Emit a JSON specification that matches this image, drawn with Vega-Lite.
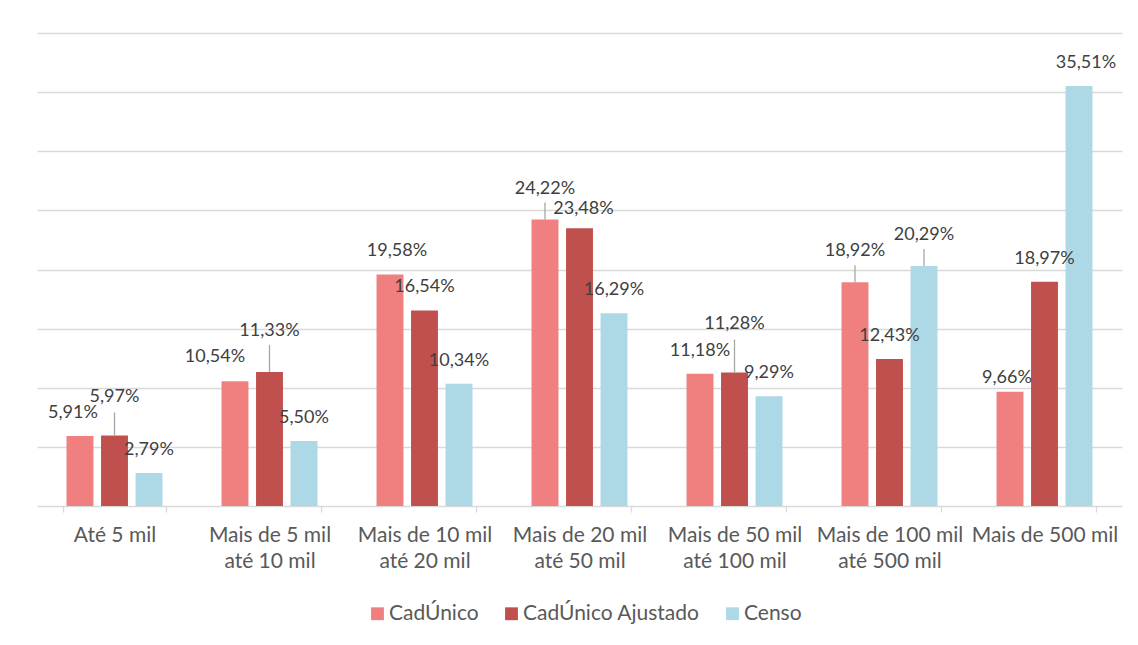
{
  "$schema": "https://vega.github.io/schema/vega-lite/v6.json",
  "width": 1085,
  "height": 473,
  "autosize": "none",
  "padding": {"left": 37, "top": 33, "right": 16, "bottom": 139},
  "background": "white",
  "config": {
    "view": {"stroke": null},
    "font": "Lato",
    "locale": {"number": {"decimal": ",", "thousands": ".", "grouping": [3], "currency": ["R$", ""]}}
  },
  "data": {
    "values": [
      {"faixa": "Até 5 mil", "serie": "CadÚnico", "valor": 0.0591},
      {"faixa": "Até 5 mil", "serie": "CadÚnico Ajustado", "valor": 0.0597},
      {"faixa": "Até 5 mil", "serie": "Censo", "valor": 0.0279},
      {"faixa": "Mais de 5 mil até 10 mil", "serie": "CadÚnico", "valor": 0.1054},
      {"faixa": "Mais de 5 mil até 10 mil", "serie": "CadÚnico Ajustado", "valor": 0.1133},
      {"faixa": "Mais de 5 mil até 10 mil", "serie": "Censo", "valor": 0.055},
      {"faixa": "Mais de 10 mil até 20 mil", "serie": "CadÚnico", "valor": 0.1958},
      {"faixa": "Mais de 10 mil até 20 mil", "serie": "CadÚnico Ajustado", "valor": 0.1654},
      {"faixa": "Mais de 10 mil até 20 mil", "serie": "Censo", "valor": 0.1034},
      {"faixa": "Mais de 20 mil até 50 mil", "serie": "CadÚnico", "valor": 0.2422},
      {"faixa": "Mais de 20 mil até 50 mil", "serie": "CadÚnico Ajustado", "valor": 0.2348},
      {"faixa": "Mais de 20 mil até 50 mil", "serie": "Censo", "valor": 0.1629},
      {"faixa": "Mais de 50 mil até 100 mil", "serie": "CadÚnico", "valor": 0.1118},
      {"faixa": "Mais de 50 mil até 100 mil", "serie": "CadÚnico Ajustado", "valor": 0.1128},
      {"faixa": "Mais de 50 mil até 100 mil", "serie": "Censo", "valor": 0.0929},
      {"faixa": "Mais de 100 mil até 500 mil", "serie": "CadÚnico", "valor": 0.1892},
      {"faixa": "Mais de 100 mil até 500 mil", "serie": "CadÚnico Ajustado", "valor": 0.1243},
      {"faixa": "Mais de 100 mil até 500 mil", "serie": "Censo", "valor": 0.2029},
      {"faixa": "Mais de 500 mil", "serie": "CadÚnico", "valor": 0.0966},
      {"faixa": "Mais de 500 mil", "serie": "CadÚnico Ajustado", "valor": 0.1897},
      {"faixa": "Mais de 500 mil", "serie": "Censo", "valor": 0.3551}
    ]
  },
  "encoding": {
    "x": {
      "field": "faixa",
      "type": "nominal",
      "sort": ["Até 5 mil", "Mais de 5 mil até 10 mil", "Mais de 10 mil até 20 mil", "Mais de 20 mil até 50 mil", "Mais de 50 mil até 100 mil", "Mais de 100 mil até 500 mil", "Mais de 500 mil"],
      "scale": {"paddingInner": 0.332, "paddingOuter": 0.166},
      "axis": {
        "title": null,
        "grid": false,
        "labelAngle": 0,
        "domainColor": "#d9d9d9",
        "domainWidth": 1.3,
        "tickColor": "#d9d9d9",
        "tickWidth": 1.3,
        "tickSize": 6,
        "tickBand": "extent",
        "labelColor": "#595959",
        "labelFontSize": 21,
        "labelBaseline": "top",
        "labelPadding": 12,
        "labelLineHeight": 26,
        "labelLimit": 0,
        "labelExpr": "indexof(datum.label, ' até ') > 0 ? [substring(datum.label, 0, indexof(datum.label, ' até ')), substring(datum.label, indexof(datum.label, ' até ') + 1)] : datum.label"
      }
    },
    "xOffset": {
      "field": "serie",
      "type": "nominal",
      "sort": ["CadÚnico", "CadÚnico Ajustado", "Censo"],
      "scale": {"paddingInner": 0.22, "paddingOuter": 0.11}
    },
    "y": {
      "field": "valor",
      "type": "quantitative",
      "scale": {"domain": [0, 0.4], "nice": false},
      "axis": {
        "title": null,
        "labels": false,
        "ticks": false,
        "domain": false,
        "grid": true,
        "gridColor": "#d9d9d9",
        "gridWidth": 1.3,
        "values": [0.05, 0.1, 0.15, 0.2, 0.25, 0.3, 0.35, 0.4]
      }
    }
  },
  "layer": [
    {
      "mark": {"type": "bar"},
      "encoding": {
        "color": {
          "field": "serie",
          "type": "nominal",
          "scale": {"domain": ["CadÚnico", "CadÚnico Ajustado", "Censo"], "range": ["#F08080", "#C0504D", "#ADD8E6"]},
          "legend": {
            "title": null,
            "orient": "none",
            "legendX": 330,
            "legendY": 570,
            "padding": 0,
            "direction": "horizontal",
            "symbolType": "square",
            "symbolSize": 165,
            "symbolStrokeWidth": 0,
            "labelFontSize": 21,
            "labelColor": "#595959",
            "labelOffset": 1,
            "labelLimit": 0,
            "columnPadding": 22
          }
        }
      }
    },
    {
      "transform": [{"filter": "indexof(['Até 5 mil|CadÚnico Ajustado', 'Mais de 5 mil até 10 mil|CadÚnico Ajustado', 'Mais de 50 mil até 100 mil|CadÚnico Ajustado', 'Mais de 20 mil até 50 mil|CadÚnico', 'Mais de 100 mil até 500 mil|CadÚnico', 'Mais de 100 mil até 500 mil|Censo', 'Mais de 5 mil até 10 mil|CadÚnico', 'Mais de 500 mil|CadÚnico', 'Mais de 20 mil até 50 mil|CadÚnico Ajustado', 'Até 5 mil|CadÚnico', 'Mais de 10 mil até 20 mil|CadÚnico', 'Mais de 500 mil|Censo'], datum.faixa + '|' + datum.serie) < 0"}],
      "mark": {"type": "text", "fontSize": 18, "color": "#404040", "baseline": "middle", "dy": -23},
      "encoding": {"text": {"field": "valor", "type": "quantitative", "format": ".2%"}}
    },
    {
      "transform": [{"filter": "datum.faixa === 'Até 5 mil' && datum.serie === 'CadÚnico Ajustado'"}],
      "mark": {"type": "text", "fontSize": 18, "color": "#404040", "baseline": "middle", "dy": -38},
      "encoding": {"text": {"field": "valor", "type": "quantitative", "format": ".2%"}}
    },
    {
      "transform": [{"filter": "datum.faixa === 'Até 5 mil' && datum.serie === 'CadÚnico Ajustado'"}],
      "mark": {"type": "rule", "color": "#a6a6a6", "strokeWidth": 1.3, "y2Offset": -23},
      "encoding": {"y2": {"field": "valor"}}
    },
    {
      "transform": [{"filter": "datum.faixa === 'Mais de 5 mil até 10 mil' && datum.serie === 'CadÚnico Ajustado'"}],
      "mark": {"type": "text", "fontSize": 18, "color": "#404040", "baseline": "middle", "dy": -41},
      "encoding": {"text": {"field": "valor", "type": "quantitative", "format": ".2%"}}
    },
    {
      "transform": [{"filter": "datum.faixa === 'Mais de 5 mil até 10 mil' && datum.serie === 'CadÚnico Ajustado'"}],
      "mark": {"type": "rule", "color": "#a6a6a6", "strokeWidth": 1.3, "y2Offset": -27},
      "encoding": {"y2": {"field": "valor"}}
    },
    {
      "transform": [{"filter": "datum.faixa === 'Mais de 50 mil até 100 mil' && datum.serie === 'CadÚnico Ajustado'"}],
      "mark": {"type": "text", "fontSize": 18, "color": "#404040", "baseline": "middle", "dy": -49},
      "encoding": {"text": {"field": "valor", "type": "quantitative", "format": ".2%"}}
    },
    {
      "transform": [{"filter": "datum.faixa === 'Mais de 50 mil até 100 mil' && datum.serie === 'CadÚnico Ajustado'"}],
      "mark": {"type": "rule", "color": "#a6a6a6", "strokeWidth": 1.3, "y2Offset": -33},
      "encoding": {"y2": {"field": "valor"}}
    },
    {
      "transform": [{"filter": "indexof(['Mais de 20 mil até 50 mil|CadÚnico', 'Mais de 100 mil até 500 mil|CadÚnico', 'Mais de 100 mil até 500 mil|Censo'], datum.faixa + '|' + datum.serie) >= 0"}],
      "mark": {"type": "text", "fontSize": 18, "color": "#404040", "baseline": "middle", "dy": -31},
      "encoding": {"text": {"field": "valor", "type": "quantitative", "format": ".2%"}}
    },
    {
      "transform": [{"filter": "indexof(['Mais de 20 mil até 50 mil|CadÚnico', 'Mais de 100 mil até 500 mil|CadÚnico', 'Mais de 100 mil até 500 mil|Censo'], datum.faixa + '|' + datum.serie) >= 0"}],
      "mark": {"type": "rule", "color": "#a6a6a6", "strokeWidth": 1.3, "y2Offset": -17},
      "encoding": {"y2": {"field": "valor"}}
    },
    {
      "transform": [{"filter": "datum.faixa === 'Mais de 5 mil até 10 mil' && datum.serie === 'CadÚnico'"}],
      "mark": {"type": "text", "fontSize": 18, "color": "#404040", "baseline": "middle", "dy": -24, "dx": -20},
      "encoding": {"text": {"field": "valor", "type": "quantitative", "format": ".2%"}}
    },
    {
      "transform": [{"filter": "datum.faixa === 'Mais de 500 mil' && datum.serie === 'CadÚnico'"}],
      "mark": {"type": "text", "fontSize": 18, "color": "#404040", "baseline": "middle", "dy": -14, "dx": -3},
      "encoding": {"text": {"field": "valor", "type": "quantitative", "format": ".2%"}}
    },
    {
      "transform": [{"filter": "datum.faixa === 'Mais de 20 mil até 50 mil' && datum.serie === 'CadÚnico Ajustado'"}],
      "mark": {"type": "text", "fontSize": 18, "color": "#404040", "baseline": "middle", "dy": -19, "dx": 4},
      "encoding": {"text": {"field": "valor", "type": "quantitative", "format": ".2%"}}
    },
    {
      "transform": [{"filter": "datum.faixa === 'Até 5 mil' && datum.serie === 'CadÚnico'"}],
      "mark": {"type": "text", "fontSize": 18, "color": "#404040", "baseline": "middle", "dy": -23, "dx": -7},
      "encoding": {"text": {"field": "valor", "type": "quantitative", "format": ".2%"}}
    },
    {
      "transform": [{"filter": "indexof(['Mais de 10 mil até 20 mil|CadÚnico', 'Mais de 500 mil|Censo'], datum.faixa + '|' + datum.serie) >= 0"}],
      "mark": {"type": "text", "fontSize": 18, "color": "#404040", "baseline": "middle", "dy": -23, "dx": 7},
      "encoding": {"text": {"field": "valor", "type": "quantitative", "format": ".2%"}}
    }
  ]
}
